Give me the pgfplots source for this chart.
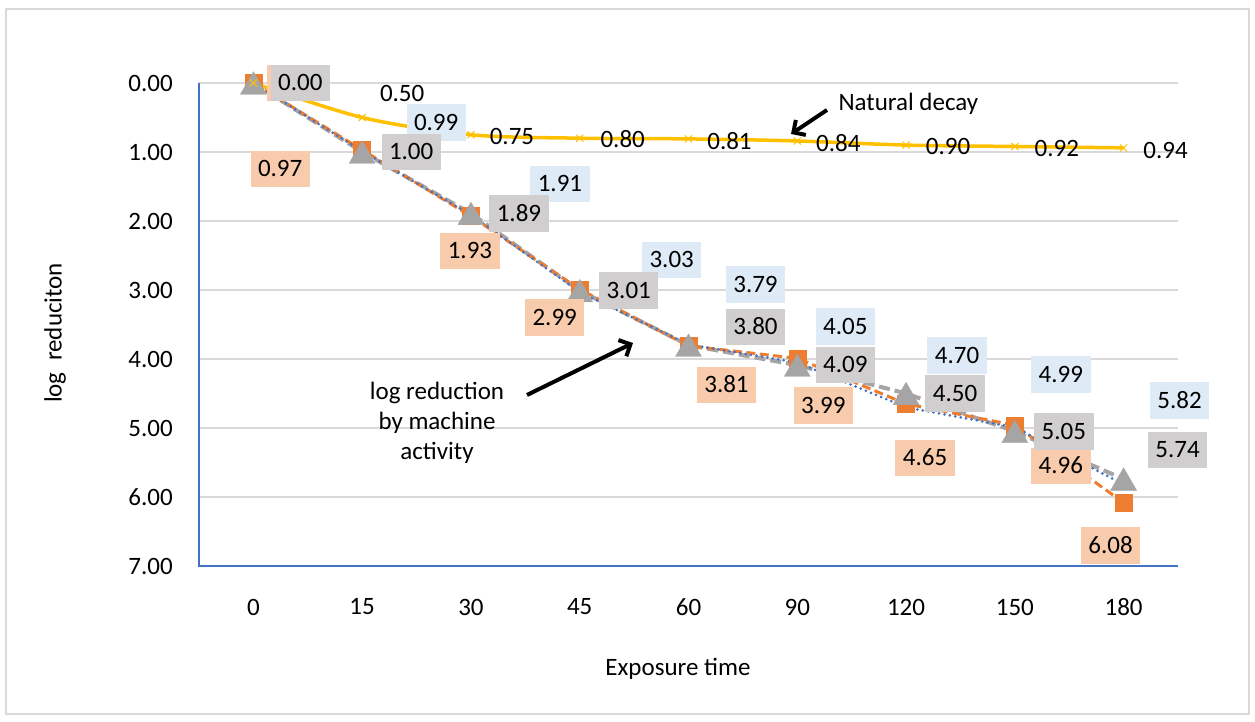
\documentclass[border=0pt]{standalone}
\usepackage{pgfplots}
\pgfplotsset{compat=1.18}
\usepackage{pgfplotstable}
\usepackage{fontspec}
\setmainfont{Carlito}
\usetikzlibrary{arrows.meta}

\definecolor{serblue}{HTML}{4472C4}
\definecolor{serorange}{HTML}{ED7D31}
\definecolor{sergray}{HTML}{A5A5A5}
\definecolor{sergold}{HTML}{FFC000}
\definecolor{boxblue}{HTML}{DEEBF7}
\definecolor{boxorange}{HTML}{F8CBAD}
\definecolor{boxgray}{HTML}{D0CECE}
\definecolor{gridgray}{HTML}{D9D9D9}

\newcommand\lbl{\fontsize{25}{30}\selectfont}

% i = category index, v = log reduction, dx/dy = label offset (pt)
\pgfplotstableread{
i v dx dy
0 0.00 0 0
1 0.99 74 29
2 1.91 89 31
3 3.03 92 32
4 3.79 67 60
5 4.05 48 36
6 4.70 51 52
7 4.99 46 53
8 5.82 56 84
}\tblue
\pgfplotstableread{
i v dx dy
0 0.00 43 0
1 0.97 -82 -19
2 1.93 -1 -35
3 2.99 -25 -28
4 3.81 38 -39
5 3.99 26 -47
6 4.65 19 -54
7 4.96 46 -41
8 6.08 -13 -43
}\torange
\pgfplotstableread{
i v dx dy
0 0.00 47 0
1 1.00 49 0
2 1.89 48 0
3 3.01 49 0
4 3.80 67 18
5 4.09 48 0
6 4.50 49 0
7 5.05 49 0
8 5.74 54 29
}\tgray
\pgfplotstableread{
i v dx dy
0 0.00 42 -2
1 0.50 40 24
2 0.75 41 -2
3 0.80 43 -2
4 0.81 41 -3
5 0.84 41 -3
6 0.90 42 -2
7 0.92 42 -2
8 0.94 42 -3
}\tnatural

\pgfplotsset{
  vlabel/.style={
    draw=none, mark=none, forget plot,
    point meta=explicit,
    nodes near coords={\pgfmathprintnumber[fixed,fixed zerofill,precision=2]{\pgfplotspointmeta}},
    nodes near coords align=center,
    visualization depends on={\thisrow{dx} \as \lblx},
    visualization depends on={\thisrow{dy} \as \lbly},
    nodes near coords style={anchor=center, xshift=\lblx pt, yshift=\lbly pt, fill=#1},
  },
}

\begin{document}
\begin{tikzpicture}
\path[use as bounding box] (0pt,0pt) rectangle (1255pt,722pt);
\draw[gridgray, line width=2pt] (6pt,8pt) rectangle (1249pt,713pt);

\begin{axis}[
  at={(199pt,156pt)}, anchor=south west, scale only axis,
  width=979pt, height=483pt,
  xmin=-0.5, xmax=8.5, ymin=0, ymax=7, y dir=reverse,
  clip=false,
  axis line style={draw=none},
  major tick length=0pt,
  xtick={0,...,8}, xticklabels={0,15,30,45,60,90,120,150,180},
  ytick={0,...,7},
  yticklabel={\pgfmathprintnumber[fixed,fixed zerofill,precision=2]{\tick}},
  /pgf/number format/assume math mode=true,
  tick label style={font=\lbl, inner sep=0pt, text=black},
  xticklabel style={anchor=center, yshift=-41pt},
  yticklabel style={anchor=east, xshift=-26pt},
  ymajorgrids, grid style={gridgray, line width=1.3pt},
  every node near coord/.append style={font=\lbl, text=black, inner xsep=7.5pt,
    inner ysep=10.5pt, text height=15.5pt, text depth=0pt},
]
% series lines
\addplot[sergray, line width=4pt, dash pattern=on 11pt off 5pt, forget plot]
  table[x=i, y=v] {\tgray};
\addplot[serorange, line width=3pt, dash pattern=on 9pt off 4.5pt, forget plot]
  table[x=i, y=v] {\torange};
\addplot[serblue, line width=3pt, line cap=round, dash pattern=on 0pt off 5.5pt,
  mark=+, mark size=3.5pt, mark options={solid, line width=1.5pt}]
  table[x=i, y=v] {\tblue};
% series markers
\addplot[serorange, only marks, mark=square*, mark size=8.5pt,
  mark options={solid, draw=none, fill=serorange}]
  table[x=i, y=v] {\torange};
\addplot[sergray, only marks, mark=triangle*, mark size=15pt,
  mark options={solid, draw=none, fill=sergray, yshift=-3.75pt}]
  table[x=i, y=v] {\tgray};
\addplot[sergold, line width=3.5pt, smooth,
  mark=x, mark size=5pt, mark options={solid, line width=1pt}]
  table[x=i, y=v] {\tnatural};

% value labels
\addplot[vlabel=boxblue, skip coords between index={0}{1}] table[x=i, y=v, meta=v] {\tblue};
\addplot[vlabel=boxorange] table[x=i, y=v, meta=v] {\torange};
\addplot[vlabel=boxgray] table[x=i, y=v, meta=v] {\tgray};
\addplot[vlabel=none, skip coords between index={0}{1}] table[x=i, y=v, meta=v] {\tnatural};
\end{axis}

% axis lines
\draw[serblue, line width=1.3pt] (199pt,639pt) -- (199pt,156pt) -- (1178pt,156pt);

% axis titles
\node[font=\lbl] at (678pt,53pt) {Exposure time};
\node[font=\lbl, rotate=90] at (55pt,389pt) {log\ \ reduciton};

% annotations
\node[font=\lbl, anchor=west] at (835pt,618pt) {Natural decay};
\draw[line width=4pt, -{Straight Barb[length=9pt,width=18pt]}] (827pt,612pt) -- (791pt,588pt);
\node[font=\lbl, align=center] at (437pt,299pt) {log reduction\\by machine\\activity};
\draw[line width=4pt, -{Straight Barb[length=9pt,width=18pt]}] (527pt,327pt) -- (633pt,379pt);
\end{tikzpicture}
\end{document}
